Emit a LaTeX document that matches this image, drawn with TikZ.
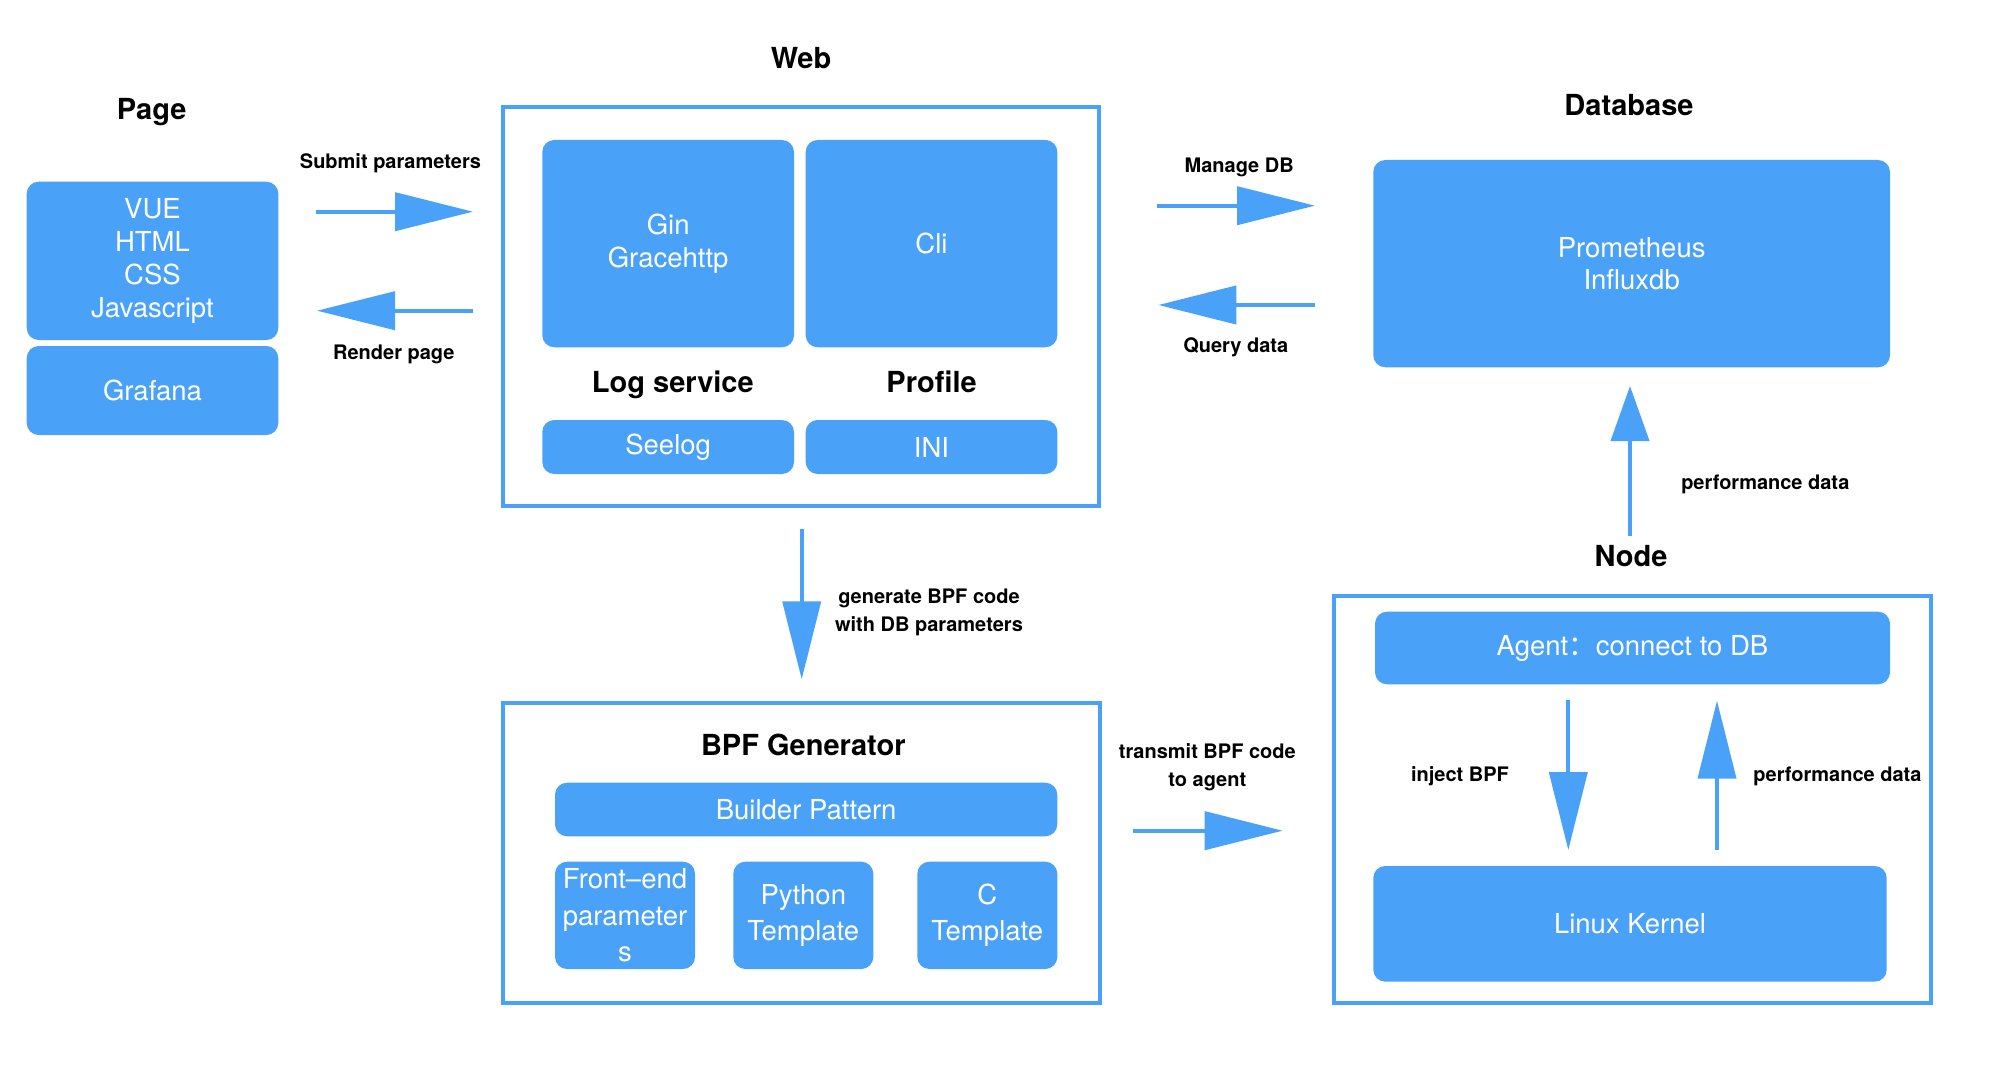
\documentclass[tikz,border=0pt]{standalone}
\usepackage{fontspec}
\setmainfont{TeX Gyre Heros}
\newfontfamily\cjkfont{Noto Sans CJK SC}
\usetikzlibrary{arrows.meta}
\definecolor{myblue}{RGB}{74,162,248}
\begin{document}
\begin{tikzpicture}[x=1pt,y=-1pt,
  blk/.style={fill=myblue, draw=none, rounded corners=12pt, text=white, align=center, inner sep=0pt, font=\fontsize{27.5}{33}\selectfont},
  tallblk/.style={blk, font=\fontsize{27.5}{36.7}\selectfont},
  frame/.style={draw=myblue, line width=4pt, fill=none, inner sep=0pt},
  ttl/.style={anchor=base, inner sep=0pt, font=\fontsize{29}{34}\selectfont\bfseries},
  lbl/.style={anchor=base, inner sep=0pt, font=\fontsize{20}{24}\selectfont\bfseries},
  bigarrow/.style={draw=myblue, line width=4pt, -{Triangle[length=78pt,width=38pt]}},
  shortarrow/.style={draw=myblue, line width=4pt, -{Triangle[length=55pt,width=38pt]}},
]
\fill[white] (0,0) rectangle (1990,1078);
\useasboundingbox (0,0) rectangle (1990,1078);

% ---------- Page ----------
\node[ttl] (tpage) at (151.7,120) {Page};
\node[blk, minimum width=251.6pt, minimum height=158.3pt] (vue) at (152.5,260.85) {VUE\\HTML\\CSS\\Javascript};
\node[blk, minimum width=251.6pt, minimum height=89pt] (grafana) at (152.5,390.5) {Grafana};
\node[lbl] (lsubmit) at (390.5,169) {Submit parameters};
\node[lbl] (lrender) at (393.8,359.3) {Render page};
\coordinate (sa) at (316,211.7);
\coordinate (sb) at (473,211.7);
\coordinate (ra) at (473,310.7);
\coordinate (rb) at (317,310.7);
\draw[bigarrow] (sa) -- (sb);
\draw[bigarrow] (ra) -- (rb);

% ---------- Web ----------
\node[ttl] (tweb) at (801,68.3) {Web};
\node[frame, minimum width=596.6pt, minimum height=398.5pt] (web) at (801,306.75) {};
\node[blk, minimum width=251.7pt, minimum height=207.3pt] (gin) at (668.15,243.65) {Gin\\Gracehttp};
\node[blk, minimum width=251.7pt, minimum height=207.3pt] (cli) at (931.5,243.65) {Cli};
\node[ttl] (tlog) at (672.8,392.3) {Log service};
\node[ttl] (tprof) at (931.6,392.3) {Profile};
\node[blk, minimum width=251.7pt, minimum height=54pt] (seelog) at (668.15,447) {Seelog};
\node[blk, minimum width=251.7pt, minimum height=54pt] (ini) at (931.5,447) {INI};

% ---------- Database ----------
\node[ttl] (tdb) at (1629,115.7) {Database};
\node[blk, font=\fontsize{27.5}{31.7}\selectfont, minimum width=516.7pt, minimum height=207.3pt] (db) at (1631.65,263.65) {Prometheus\\Influxdb};
\node[lbl] (lmanage) at (1239.2,172.3) {Manage DB};
\node[lbl] (lquery) at (1235.8,352.7) {Query data};
\coordinate (ma) at (1157,205.7);
\coordinate (mb) at (1315,205.7);
\coordinate (qa) at (1315,305);
\coordinate (qb) at (1158.3,305);
\draw[bigarrow] (ma) -- (mb);
\draw[bigarrow] (qa) -- (qb);

% ---------- Node to Database ----------
\coordinate (pa) at (1630,535.7);
\coordinate (pb) at (1630,386);
\draw[shortarrow] (pa) -- (pb);
\node[lbl] (lperf1) at (1765.3,489) {performance data};

% ---------- Node ----------
\node[ttl] (tnode) at (1631,566.7) {Node};
\node[frame, minimum width=596.7pt, minimum height=407.3pt] (nodebox) at (1632.65,799.65) {};
\node[blk, minimum width=515pt, minimum height=72.6pt] (agent) at (1632.5,648) {Agent{\cjkfont ：}connect to DB};
\node[blk, minimum width=513.4pt, minimum height=115.7pt] (linux) at (1630,923.85) {Linux Kernel};
\node[lbl] (linject) at (1460,781.7) {inject BPF};
\node[lbl] (lperf2) at (1837.5,781.7) {performance data};
\coordinate (ia) at (1568.3,700);
\coordinate (ib) at (1568.3,850);
\coordinate (ua) at (1717,850);
\coordinate (ub) at (1717,700.7);
\draw[bigarrow] (ia) -- (ib);
\draw[bigarrow] (ua) -- (ub);

% ---------- Web to BPF ----------
\coordinate (ga) at (801.7,529.3);
\coordinate (gb) at (801.7,679.3);
\draw[bigarrow] (ga) -- (gb);
\node[lbl] (lgen1) at (929,603.3) {generate BPF code};
\node[lbl] (lgen2) at (929,631.7) {with DB parameters};

% ---------- BPF Generator ----------
\node[frame, minimum width=596.7pt, minimum height=300.6pt] (bpf) at (801.65,853) {};
\node[ttl] (tbpf) at (803.3,755) {BPF Generator};
\node[blk, minimum width=502.3pt, minimum height=53.6pt] (builder) at (806.15,809.5) {Builder Pattern};
\node[tallblk, minimum width=140pt, minimum height=107.3pt] (front) at (625,915.35) {Front–end\\parameter\\s};
\node[tallblk, minimum width=140pt, minimum height=107.3pt] (python) at (803.3,915.35) {Python\\Template};
\node[tallblk, minimum width=140pt, minimum height=107.3pt] (cbox) at (987.3,915.35) {C\\Template};

% ---------- BPF to Node ----------
\node[lbl] (ltrans1) at (1207.3,758.3) {transmit BPF code};
\node[lbl] (ltrans2) at (1207.3,786.7) {to agent};
\coordinate (ta) at (1133.3,830.7);
\coordinate (tb) at (1282.7,830.7);
\draw[bigarrow] (ta) -- (tb);
\end{tikzpicture}
\end{document}
